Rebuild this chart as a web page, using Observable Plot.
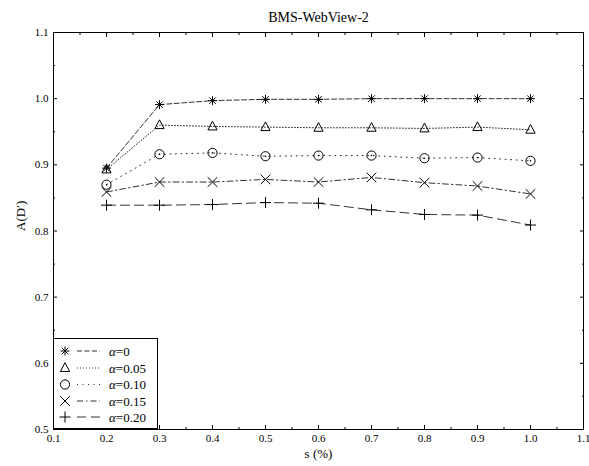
<!DOCTYPE html>
<html><head><meta charset="utf-8">
<script src="https://cdn.jsdelivr.net/npm/d3@7"></script>
<script src="https://cdn.jsdelivr.net/npm/@observablehq/plot@0.6"></script>
<style>body{margin:0;background:#fff}#chart{width:589px;height:466px}</style>
</head><body><div id="chart"></div>
<script>
const chartTitle = "BMS-WebView-2";
const xLabel = "s (%)";
const yLabel = "A(D\u2032)";
const sValues = [0.2, 0.3, 0.4, 0.5, 0.6, 0.7, 0.8, 0.9, 1.0];
const alpha0   = [0.895, 0.991, 0.997, 0.999, 0.999, 1.000, 1.000, 1.000, 1.000];
const alpha005 = [0.893, 0.960, 0.958, 0.957, 0.956, 0.956, 0.955, 0.957, 0.953];
const alpha010 = [0.870, 0.916, 0.918, 0.913, 0.914, 0.914, 0.910, 0.911, 0.906];
const alpha015 = [0.859, 0.874, 0.874, 0.878, 0.874, 0.881, 0.873, 0.868, 0.856];
const alpha020 = [0.839, 0.839, 0.840, 0.843, 0.842, 0.832, 0.825, 0.824, 0.809];
const seriesLabels = ["α=0", "α=0.05", "α=0.10", "α=0.15", "α=0.20"];
const xTickLabels = [0.1, 0.2, 0.3, 0.4, 0.5, 0.6, 0.7, 0.8, 0.9, 1.0, 1.1];
const yTickLabels = [0.5, 0.6, 0.7, 0.8, 0.9, 1.0, 1.1];
const xMinorTicks = [0.15, 0.25, 0.35, 0.45, 0.55, 0.65, 0.75, 0.85, 0.95, 1.05];
const yMinorTicks = [0.55, 0.65, 0.75, 0.85, 0.95, 1.05];

// custom marker shapes (size = r^2 * PI)
function makeSymbol(kind) {
  return {draw(ctx, size) {
    const r = Math.sqrt(size / Math.PI);
    if (kind === "asterisk") {
      const d = r * 0.72;
      ctx.moveTo(0, -r); ctx.lineTo(0, r);
      ctx.moveTo(-r, 0); ctx.lineTo(r, 0);
      ctx.moveTo(-d, -d); ctx.lineTo(d, d);
      ctx.moveTo(-d, d); ctx.lineTo(d, -d);
    } else if (kind === "triangle") {
      ctx.moveTo(0, -r * 1.15); ctx.lineTo(r, r * 0.75); ctx.lineTo(-r, r * 0.75); ctx.closePath();
    } else if (kind === "circle") {
      ctx.moveTo(r, 0); ctx.arc(0, 0, r, 0, 2 * Math.PI);
    } else if (kind === "times") {
      ctx.moveTo(-r, -r); ctx.lineTo(r, r);
      ctx.moveTo(-r, r); ctx.lineTo(r, -r);
    } else if (kind === "plus") {
      ctx.moveTo(0, -r); ctx.lineTo(0, r);
      ctx.moveTo(-r, 0); ctx.lineTo(r, 0);
    }
  }};
}

const seriesDefs = [
  {label: seriesLabels[0], values: alpha0,   dash: "5,2.5",     symbol: "asterisk", r: 4.5},
  {label: seriesLabels[1], values: alpha005, dash: "1,2",       symbol: "triangle", r: 4.6},
  {label: seriesLabels[2], values: alpha010, dash: "1,4.5",     symbol: "circle",   r: 4.6},
  {label: seriesLabels[3], values: alpha015, dash: "6,3,1.5,3", symbol: "times",    r: 4.8},
  {label: seriesLabels[4], values: alpha020, dash: "9,5",       symbol: "plus",     r: 5.5}
];

const lineMarks = [];
const dotMarks = [];
for (const sd of seriesDefs) {
  const rows = sValues.map((s, i) => ({s, v: sd.values[i]}));
  lineMarks.push(Plot.line(rows, {x: "s", y: "v", stroke: "#333", strokeWidth: 1, strokeDasharray: sd.dash}));
  dotMarks.push(Plot.dot(rows, {x: "s", y: "v", r: sd.r, symbol: makeSymbol(sd.symbol), stroke: "#000", fill: "none", strokeWidth: 1}));
  if (sd.symbol === "circle") dotMarks.push(Plot.dot(rows, {x: "s", y: "v", r: 0.8, fill: "#000", stroke: "none"}));
}

const fmt = d => d.toFixed(1);
const plot = Plot.plot({
  width: 589, height: 466,
  marginLeft: 53, marginRight: 6, marginTop: 32, marginBottom: 37,
  x: {domain: [0.1, 1.1]},
  y: {domain: [0.5, 1.1]},
  style: {fontFamily: "'Liberation Serif', 'Times New Roman', serif", fontSize: "11px", color: "#000", background: "#fff"},
  marks: [
    Plot.axisX({anchor: "bottom", ticks: xTickLabels, tickSize: 0, tickPadding: 5, tickFormat: fmt, label: null}),
    Plot.axisY({anchor: "left", ticks: yTickLabels, tickSize: 0, tickPadding: 5, tickFormat: fmt, label: null}),
    Plot.axisX({anchor: "bottom", ticks: xTickLabels, tickSize: -4, text: null, label: null}),
    Plot.axisX({anchor: "bottom", ticks: xMinorTicks, tickSize: -2, text: null, label: null}),
    Plot.axisX({anchor: "top", ticks: xTickLabels, tickSize: -4, text: null, label: null}),
    Plot.axisX({anchor: "top", ticks: xMinorTicks, tickSize: -2, text: null, label: null}),
    Plot.axisY({anchor: "left", ticks: yTickLabels, tickSize: -4, text: null, label: null}),
    Plot.axisY({anchor: "left", ticks: yMinorTicks, tickSize: -2, text: null, label: null}),
    Plot.axisY({anchor: "right", ticks: yTickLabels, tickSize: -4, text: null, label: null}),
    Plot.axisY({anchor: "right", ticks: yMinorTicks, tickSize: -2, text: null, label: null}),
    ...lineMarks,
    ...dotMarks,
    Plot.frame({stroke: "#000", strokeWidth: 1}),
    Plot.text([chartTitle], {frameAnchor: "top", dy: -20, fontSize: 14}),
    Plot.text([xLabel], {frameAnchor: "bottom", dy: 28, fontSize: 13}),
    Plot.text([yLabel], {frameAnchor: "left", dx: -33, rotate: -90, fontSize: 13})
  ]
});
document.getElementById("chart").appendChild(plot);

// legend box (lower left, inside the frame)
const svg = d3.select(plot);
const lg = svg.append("g").attr("class", "legend").attr("text-anchor", "start");
lg.append("rect").attr("x", 53.5).attr("y", 338.5).attr("width", 104).attr("height", 90)
  .attr("fill", "#fff").attr("stroke", "#000").attr("stroke-width", 1);
const rowY = [351, 368, 384.5, 401, 417];
seriesDefs.forEach((sd, i) => {
  const y = rowY[i];
  const p = d3.path();
  makeSymbol(sd.symbol).draw(p, sd.r * sd.r * Math.PI);
  lg.append("path").attr("d", p.toString()).attr("transform", `translate(65,${y})`)
    .attr("fill", "none").attr("stroke", "#000").attr("stroke-width", 1);
  lg.append("line").attr("x1", 77).attr("x2", 100).attr("y1", y).attr("y2", y)
    .attr("stroke", "#333").attr("stroke-width", 1).attr("stroke-dasharray", sd.dash);
  const t = lg.append("text").attr("x", 109).attr("y", y).attr("dy", "0.35em").attr("text-anchor", "start")
    .attr("font-size", 13).attr("font-family", "'Liberation Serif', 'Times New Roman', serif").attr("fill", "#000");
  t.append("tspan").attr("font-style", "italic").text(sd.label.slice(0, 1));
  t.append("tspan").text(sd.label.slice(1));
});
</script>
</body></html>
